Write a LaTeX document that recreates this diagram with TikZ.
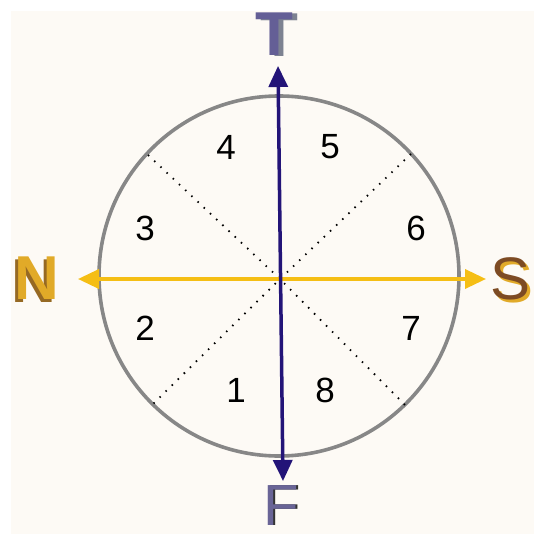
\documentclass[tikz,border=0pt]{standalone}
\usepackage{fontspec}
\setmainfont{Liberation Sans}
\usetikzlibrary{arrows.meta}
\definecolor{bgcream}{RGB}{253,250,245}
\definecolor{ringgray}{RGB}{135,135,135}
\definecolor{tfarrow}{RGB}{35,20,120}
\definecolor{nsarrow}{RGB}{245,190,20}
\definecolor{tface}{RGB}{100,95,150}
\definecolor{tside}{RGB}{125,130,145}
\definecolor{nface}{RGB}{225,170,40}
\definecolor{nside}{RGB}{150,105,35}
\definecolor{sface}{RGB}{125,75,35}
\definecolor{sside}{RGB}{225,170,40}
\definecolor{fface}{RGB}{105,100,150}
% layered letter: #1 dx, #2 dy (shadow offsets), #3 shadow colour, #4 face colour, #5 letter
\newcommand{\layerletter}[5]{\makebox[0pt][l]{\hspace*{#1}\raisebox{#2}{\textcolor{#3}{#5}}}\textcolor{#4}{#5}}
\begin{document}
\begin{tikzpicture}[x=1pt,y=-1pt,
  ring/.style={draw=ringgray,line width=3.6pt},
  sector/.style={draw=black,line width=1.8pt,dash pattern=on 1.5pt off 7pt},
  tfline/.style={draw=tfarrow,line width=3.5pt,{Triangle[length=21pt,width=19pt]}-{Triangle[length=21pt,width=19pt]}},
  nsline/.style={draw=nsarrow,line width=3.5pt,{Triangle[length=21pt,width=19pt]}-{Triangle[length=21pt,width=19pt]}},
  digit/.style={font=\fontsize{35}{35}\selectfont,text=black,inner sep=0pt},
  bigletter/.style={inner sep=0pt}]
\useasboundingbox (0,0) rectangle (534,534);
\fill[white] (0,0) rectangle (534,534);
\fill[bgcream] (11,11) rectangle (534,534);
% ring
\coordinate (c) at (279,276);
\node[ring,circle,minimum size=360pt,inner sep=0pt] (ring) at (c) {};
% dotted sector lines
\coordinate (ul) at (148,155);
\coordinate (ur) at (411,154);
\coordinate (ll) at (153,404);
\coordinate (lr) at (405,405);
\coordinate (o) at (280,279);
\draw[sector] (ul) -- (o) -- (lr);
\draw[sector] (ur) -- (o) -- (ll);
% arrows
\coordinate (nTip) at (78,279);
\coordinate (sTip) at (486,279);
\coordinate (tTip) at (278,66);
\coordinate (fTip) at (283,481);
\draw[nsline] (nTip) -- (sTip);
\draw[tfline] (fTip) -- (tTip);
% digits
\node[digit] (d4) at (226,147) {4};
\node[digit] (d5) at (330,147) {5};
\node[digit] (d3) at (145,228) {3};
\node[digit] (d6) at (416,228) {6};
\node[digit] (d2) at (145,328) {2};
\node[digit] (d7) at (411,328) {7};
\node[digit] (d1) at (236,390) {1};
\node[digit] (d8) at (325,390) {8};
% compass letters
\node[bigletter] (tlabel) at (274,35) {\fontsize{62}{62}\selectfont\bfseries\layerletter{5pt}{-1pt}{tside}{tface}{T}};
\node[bigletter] (nlabel) at (37,280) {\fontsize{62}{62}\selectfont\bfseries\layerletter{-3pt}{-3pt}{nside}{nface}{N}};
\node[bigletter] (slabel) at (510,280) {\fontsize{60}{60}\selectfont\layerletter{3pt}{-3pt}{sside}{sface}{S}};
\node[bigletter] (flabel) at (281,506) {\fontsize{58}{58}\selectfont\layerletter{2pt}{0pt}{black!80}{fface}{F}};
\end{tikzpicture}
\end{document}
